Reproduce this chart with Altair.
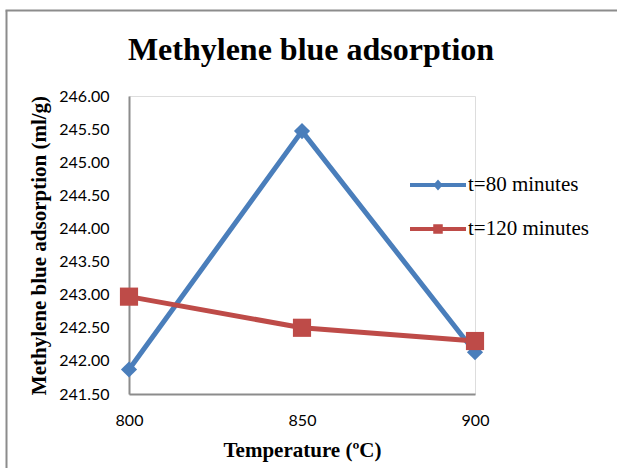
import altair as alt
import pandas as pd

temperatures = [800, 850, 900]
series_names = ["t=80 minutes", "t=120 minutes"]
t80_values = [241.87, 245.47, 242.13]
t120_values = [242.97, 242.50, 242.30]
y_ticks = [241.5, 242.0, 242.5, 243.0, 243.5, 244.0, 244.5, 245.0, 245.5, 246.0]
x_ticks = [800, 850, 900]
colors = ["#4a7ebb", "#be4b48"]

rows = []
for t, v in zip(temperatures, t80_values):
    rows.append({"Temperature": t, "Value": v, "Series": series_names[0]})
for t, v in zip(temperatures, t120_values):
    rows.append({"Temperature": t, "Value": v, "Series": series_names[1]})
df = pd.DataFrame(rows)

W, H = 346, 298
PL, PT = 129, 96

line_path = "M-1,-0.075L1,-0.075L1,0.075L-1,0.075Z"
diamond_path = "M0,-0.2L0.17,0L0,0.2L-0.17,0Z"
square_path = "M-0.17,-0.17L0.17,-0.17L0.17,0.17L-0.17,0.17Z"
sym80 = line_path + diamond_path
sym120 = line_path + square_path

color_scale = alt.Scale(domain=series_names, range=colors)

x_axis = alt.Axis(
    values=x_ticks, title="Temperature (ºC)", grid=False, ticks=False,
    domainColor="#8c8c8c", domainWidth=2, labelFont="Lato", labelFontSize=16,
    labelColor="#000000", labelPadding=18, labelOverlap=False,
    titleFont="Liberation Serif", titleFontSize=21, titleFontWeight="bold",
    titleColor="#000000", titlePadding=11, labelFlush=False,
)
y_axis = alt.Axis(
    values=y_ticks, format=".2f", title="Methylene blue adsorption (ml/g)",
    grid=False, ticks=False, domainColor="#8c8c8c", domainWidth=2,
    labelFont="Lato", labelFontSize=16, labelColor="#000000", labelPadding=20,
    labelOverlap=False, labelFlush=False,
    titleFont="Liberation Serif", titleFontSize=21, titleFontWeight="bold",
    titleColor="#000000", titlePadding=9,
)
x_enc = alt.X("Temperature:Q", scale=alt.Scale(domain=[800, 900], nice=False, zero=False), axis=x_axis)
y_enc = alt.Y("Value:Q", scale=alt.Scale(domain=[241.5, 246.0], nice=False, zero=False), axis=y_axis)

legend = alt.Legend(
    title=None, orient="none", legendX=281, legendY=61,
    labelFont="Liberation Serif", labelFontSize=21, labelColor="#000000",
    symbolSize=3136, rowPadding=6, labelOffset=2, symbolStrokeWidth=0,
    symbolOpacity=1,
    symbolType=alt.ExprRef(expr="datum.value === 't=80 minutes' ? '" + sym80 + "' : '" + sym120 + "'"),
    symbolFillColor=alt.ExprRef(expr="scale('color', datum.value)"),
)

color_enc = alt.Color("Series:N", scale=color_scale, legend=legend, sort=series_names)

base = alt.Chart(df)

lines = base.mark_line(strokeWidth=5).encode(x=x_enc, y=y_enc, color=color_enc)

points80 = base.transform_filter(alt.datum.Series == series_names[0]).mark_point(
    filled=True, opacity=1, shape="diamond", size=260
).encode(x=x_enc, y=y_enc, color=color_enc)

points120 = base.transform_filter(alt.datum.Series == series_names[1]).mark_point(
    filled=True, opacity=1, shape="square", size=330
).encode(x=x_enc, y=y_enc, color=color_enc)

frame_data = alt.Data(values=[{"k": 1}])
frame_left = alt.Chart(frame_data).mark_rule(color="#8c8c8c", strokeWidth=2).encode(
    x=alt.value(6.5 - PL), y=alt.value(10.5 - PT), y2=alt.value(468 - PT + 5)
)
frame_top = alt.Chart(frame_data).mark_rule(color="#8c8c8c", strokeWidth=2).encode(
    x=alt.value(5.5 - PL), x2=alt.value(617 - PL + 5), y=alt.value(10.5 - PT)
)

chart = alt.layer(lines, points80, points120, frame_left, frame_top).properties(
    width=W, height=H,
    title=alt.TitleParams(
        "Methylene blue adsorption", font="Liberation Serif", fontSize=32,
        fontWeight="bold", color="#000000", anchor="middle", offset=-57, dx=9,
    ),
    autosize=alt.AutoSizeParams(type="none"),
    padding={"left": PL, "top": PT, "right": 617 - PL - W, "bottom": 468 - PT - H},
).configure_view(stroke=None).configure(background="#ffffff")

chart.save("out.html", embed_options={"renderer": "svg", "actions": False})
